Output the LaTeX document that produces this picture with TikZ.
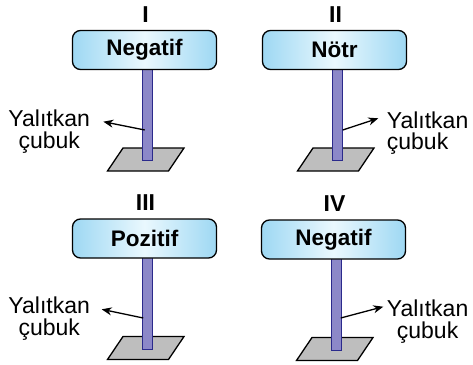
\documentclass[tikz,border=0pt]{standalone}
\usepackage{fontspec}
\setmainfont{Liberation Sans}
\usetikzlibrary{arrows.meta,calc}
\definecolor{rodfill}{HTML}{8C88C8}
\definecolor{roddraw}{HTML}{2B2A8C}
\definecolor{boxblue}{HTML}{9ED8F3}
\definecolor{boxlight}{HTML}{EAF8FE}
\definecolor{basegray}{HTML}{BEBEBE}
\newcommand\mypanel[5]{%
\begin{scope}[shift={(#2,#3)}]
  \coordinate (bTL#1) at (123,148);
  \coordinate (bTR#1) at (184,148);
  \coordinate (bBR#1) at (168.5,171);
  \coordinate (bBL#1) at (107.5,171);
  \draw[basestyle] (bTL#1) -- (bTR#1) -- (bBR#1) -- (bBL#1) -- cycle;
  \node[rodstyle] (rod#1) at (147.2,68) {};
  \node[sign] (box#1) at (144.5,50) {#5};
  \node[num] (num#1) at (145.5,14.5) {#4};
\end{scope}}
\begin{document}
\begin{tikzpicture}[x=1pt,y=-1pt,
  sign/.style={draw=black,line width=1.3pt,rounded corners=8pt,
    minimum width=144pt,minimum height=39pt,inner sep=0pt,
    left color=boxblue,right color=boxblue,middle color=boxlight,
    font=\fontsize{22.5}{24}\selectfont\bfseries},
  rodstyle/.style={draw=roddraw,fill=rodfill,line width=1pt,
    minimum width=10pt,minimum height=92pt,inner sep=0pt,anchor=north},
  basestyle/.style={fill=basegray,draw=black,line width=1.3pt,line join=miter},
  lbl/.style={font=\fontsize{23}{21.5}\selectfont,inner sep=0pt},
  num/.style={font=\fontsize{23}{24}\selectfont\bfseries,inner sep=0pt},
  ptr/.style={line width=1.3pt,-{Stealth[length=10pt,width=8pt]}}]
\useasboundingbox (0,0) rectangle (473,364);

\mypanel{1}{0}{0}{I}{Negatif}
\mypanel{2}{190}{0}{II}{Nötr}
\mypanel{3}{0}{188.5}{III}{Pozitif}
\mypanel{4}{189}{189.5}{IV}{Negatif}

\node[lbl,align=center,anchor=north west] (lab1) at (8.3,110) {Yalıtkan\\çubuk};
\node[lbl,align=left,anchor=north west] (lab2) at (386.7,111.5) {Yalıtkan\\çubuk};
\node[lbl,align=center,anchor=north west] (lab3) at (8.3,296.7) {Yalıtkan\\çubuk};
\node[lbl,align=center,anchor=north west] (lab4) at (386.7,300) {Yalıtkan\\çubuk};

\coordinate (t1) at (103.3,121.7);
\coordinate (t2) at (378.3,118.3);
\coordinate (t3) at (101.7,309.3);
\coordinate (t4) at (383.3,306.7);

\draw[ptr] ($(rod1.north west)+(3,62)$) -- (t1);
\draw[ptr] ($(rod2.north east)+(0,62)$) -- (t2);
\draw[ptr] ($(rod3.north west)+(1.5,61.5)$) -- (t3);
\draw[ptr] ($(rod4.north east)+(-1,60.5)$) -- (t4);
\end{tikzpicture}
\end{document}
